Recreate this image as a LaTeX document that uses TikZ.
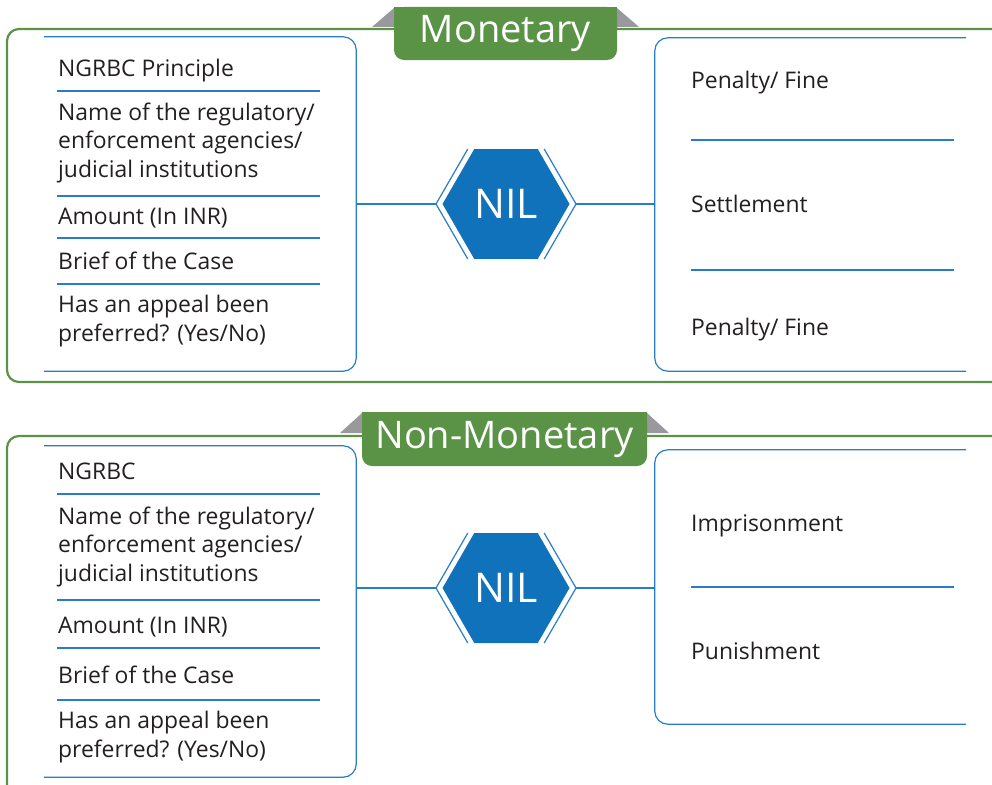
\documentclass[tikz,border=0pt]{standalone}
\usepackage{fontspec}
\setmainfont{Open Sans}
\usepackage{xcolor}
\usetikzlibrary{shapes.geometric, positioning, calc}
\definecolor{brgreen}{RGB}{90,146,70}
\definecolor{brblue}{RGB}{16,114,186}
\definecolor{brline}{RGB}{40,125,200}
\definecolor{brgray}{RGB}{152,152,157}
\definecolor{brtext}{RGB}{35,31,32}
\tikzstyle{frame} = [draw=brgreen, line width=2.2pt, rounded corners=12pt]
\tikzstyle{divider} = [draw=brline, line width=1.2pt]

\begin{document}
\begin{tikzpicture}[
    x=1pt, y=-1pt,
    panel/.style={draw=brline, line width=1.2pt, rounded corners=13pt},
    panelbox/.style={rectangle, inner sep=0pt, minimum width=#1},
    tab/.style={rectangle, fill=brgreen, rounded corners=10pt, text=white, inner sep=0pt, font=\fontsize{38}{42}\selectfont},
    ear/.style={fill=brgray},
    item/.style={anchor=base west, inner sep=0pt, text=brtext, align=left, font=\fontsize{22.9}{28.5}\selectfont},
    hexa/.style={regular polygon, regular polygon sides=6, fill=brblue, minimum size=127pt, inner sep=0pt, text=white, font=\fontsize{41}{44}\selectfont},
    hexrim/.style={draw=brline, line width=1.2pt},
    link/.style={draw=brline, line width=1.2pt}
]
\useasboundingbox (0,0) rectangle (992,784);

% Monetary
\draw[frame] (7,29) rectangle (1006,382);
\fill[ear] (372,27) -- (394,8) -- (394,27) -- cycle;
\fill[ear] (617,8) -- (639,27) -- (617,27) -- cycle;
\fill[brgreen] (394,7) rectangle (617,34);
\node[tab, minimum width=223pt, minimum height=53pt] (tabm) at (505.5,33.5) {Monetary};

\node[panelbox=312pt, minimum height=334pt] (lpanm) at (200,204) {};
\draw[panel] (lpanm.north west) -- (lpanm.north east) -- (lpanm.south east) -- (lpanm.south west);
\node[panelbox=311pt, minimum height=333pt] (rpanm) at (810.5,204.5) {};
\draw[panel] (rpanm.north east) -- (rpanm.north west) -- (rpanm.south west) -- (rpanm.south east);

\foreach \yy in {91,196,238,284}
    \draw[divider] (57,\yy) -- (320,\yy);
\foreach \yy in {140,270}
    \draw[divider] (691,\yy) -- (954,\yy);

\node[item] (m1) at (58,77) {NGRBC Principle};
\node[item] (m2) at (58,177) {Name of the regulatory/\\enforcement agencies/\\judicial institutions};
\node[item] (m3) at (58,224) {Amount (In INR)};
\node[item] (m4) at (58,269) {Brief of the Case};
\node[item] (m5) at (58,341) {Has an appeal been\\preferred? (Yes/No)};
\node[item] (m6) at (691,88) {Penalty/ Fine};
\node[item] (m7) at (691,212) {Settlement};
\node[item] (m8) at (691,335) {Penalty/ Fine};

\node[hexa] (hexm) at (506,204) {NIL};
\coordinate (hexm-l) at ($(hexm.center)+(-70,0)$);
\coordinate (hexm-r) at ($(hexm.center)+(70,0)$);
\draw[hexrim] ($(hexm.center)+(-38.2,-55)$) -- (hexm-l) -- ($(hexm.center)+(-38.2,55)$);
\draw[hexrim] ($(hexm.center)+(38.2,-55)$) -- (hexm-r) -- ($(hexm.center)+(38.2,55)$);
\draw[link] (lpanm.east |- hexm-l) -- (hexm-l);
\draw[link] (hexm-r) -- (rpanm.west |- hexm-r);

% Non-Monetary
\draw[frame] (7,436) rectangle (1006,806);
\fill[ear] (340,433) -- (362,413) -- (362,433) -- cycle;
\fill[ear] (647,413) -- (669,433) -- (647,433) -- cycle;
\fill[brgreen] (362,412) rectangle (647,439);
\node[tab, minimum width=285pt, minimum height=54pt] (tabn) at (504.5,439) {Non-Monetary};

\node[panelbox=312pt, minimum height=331pt] (lpann) at (200,611.5) {};
\draw[panel] (lpann.north west) -- (lpann.north east) -- (lpann.south east) -- (lpann.south west);
\node[panelbox=311pt, minimum height=274pt] (rpann) at (810.5,587) {};
\draw[panel] (rpann.north east) -- (rpann.north west) -- (rpann.south west) -- (rpann.south east);

\foreach \yy in {494,600,648,700}
    \draw[divider] (57,\yy) -- (320,\yy);
\draw[divider] (691,587) -- (954,587);

\node[item] (n1) at (58,479) {NGRBC};
\node[item] (n2) at (58,581) {Name of the regulatory/\\enforcement agencies/\\judicial institutions};
\node[item] (n3) at (58,633) {Amount (In INR)};
\node[item] (n4) at (58,683) {Brief of the Case};
\node[item] (n5) at (58,757) {Has an appeal been\\preferred? (Yes/No)};
\node[item] (n6) at (691,531) {Imprisonment};
\node[item] (n7) at (691,659) {Punishment};

\node[hexa] (hexn) at (506,588) {NIL};
\coordinate (hexn-l) at ($(hexn.center)+(-70,0)$);
\coordinate (hexn-r) at ($(hexn.center)+(70,0)$);
\draw[hexrim] ($(hexn.center)+(-38.2,-55)$) -- (hexn-l) -- ($(hexn.center)+(-38.2,55)$);
\draw[hexrim] ($(hexn.center)+(38.2,-55)$) -- (hexn-r) -- ($(hexn.center)+(38.2,55)$);
\draw[link] (lpann.east |- hexn-l) -- (hexn-l);
\draw[link] (hexn-r) -- (rpann.west |- hexn-r);

\end{tikzpicture}
\end{document}
